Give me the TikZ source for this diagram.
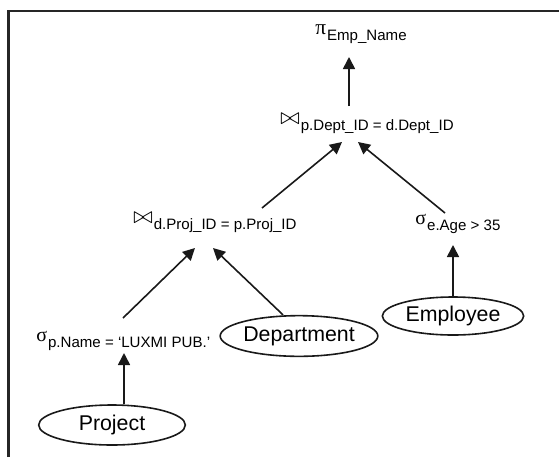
\documentclass[tikz,border=0pt]{standalone}
\usepackage{fontspec}
\setmainfont{Liberation Sans}
\newfontfamily\greekfont{Liberation Serif}
\usetikzlibrary{shapes, arrows.meta, calc}

% operator symbol, raised, followed by its condition
\newcommand{\relop}[2]{\raisebox{4pt}{#1}\kern0.8pt#2}
\newcommand{\opproj}{{\greekfont\fontsize{16}{16}\selectfont π}}
\newcommand{\opsel}{{\greekfont\fontsize{15}{15}\selectfont σ}}
\newcommand{\opjoin}{\scalebox{1.6}{$\bowtie$}}

\begin{document}
\begin{tikzpicture}[x=0.75pt, y=-0.75pt,
            op/.style={inner sep=0pt, anchor=base west, font=\fontsize{11.3}{12}\selectfont},
            tbl/.style={ellipse, draw=black!90, line width=1.2pt, inner sep=0pt, font=\fontsize{16}{18}\selectfont},
            arr/.style={-{Triangle[length=9pt, width=9pt]}, black!90, line width=1.2pt},
            frame/.style={draw=black!85, line width=1.6pt}]
            \useasboundingbox (0,0) rectangle (559,457);
            \draw[frame] (8.5,457) -- (8.5,11) -- (559,11);
            % operators
            \node[op] (proj) at (315,40) {\relop{\opproj}{Emp\_Name}};
            \node[op] (join2) at (280,130) {\relop{\opjoin}{p.Dept\_ID = d.Dept\_ID}};
            \node[op] (join1) at (133,229) {\relop{\opjoin}{d.Proj\_ID = p.Proj\_ID}};
            \node[op] (selAge) at (415,230) {\relop{\opsel}{e.Age > 35}};
            \node[op] (selName) at (36,347) {\relop{\opsel}{p.Name = ‘LUXMI PUB.’}};
            % relations
            \node[tbl, minimum width=110pt, minimum height=30pt] (project) at (112,425) {Project};
            \node[tbl, minimum width=115.5pt, minimum height=30.5pt] (dept) at (299,336) {Department};
            \node[tbl, minimum width=106pt, minimum height=28.5pt] (emp) at (453,316) {Employee};
            % edges
            \draw[arr] ([xshift=9pt]project.north) -- ($(selName.base west)+(88,6)$);
            \draw[arr] ($(selName.base west)+(87,-29)$) -- ($(join1.base west)+(62,19)$);
            \draw[arr] ([xshift=-12pt]dept.north) -- ($(join1.base west)+(80,19)$);
            \draw[arr] (emp.north) -- ($(selAge.base west)+(38,15)$);
            \draw[arr] ($(join1.base west)+(129,-21)$) -- ($(join2.base west)+(62,12)$);
            \draw[arr] ($(selAge.base west)+(30,-17)$) -- ($(join2.base west)+(78,12)$);
            \draw[arr] ($(join2.base west)+(69,-24)$) -- ($(proj.base west)+(34,17)$);
        \end{tikzpicture}
\end{document}
